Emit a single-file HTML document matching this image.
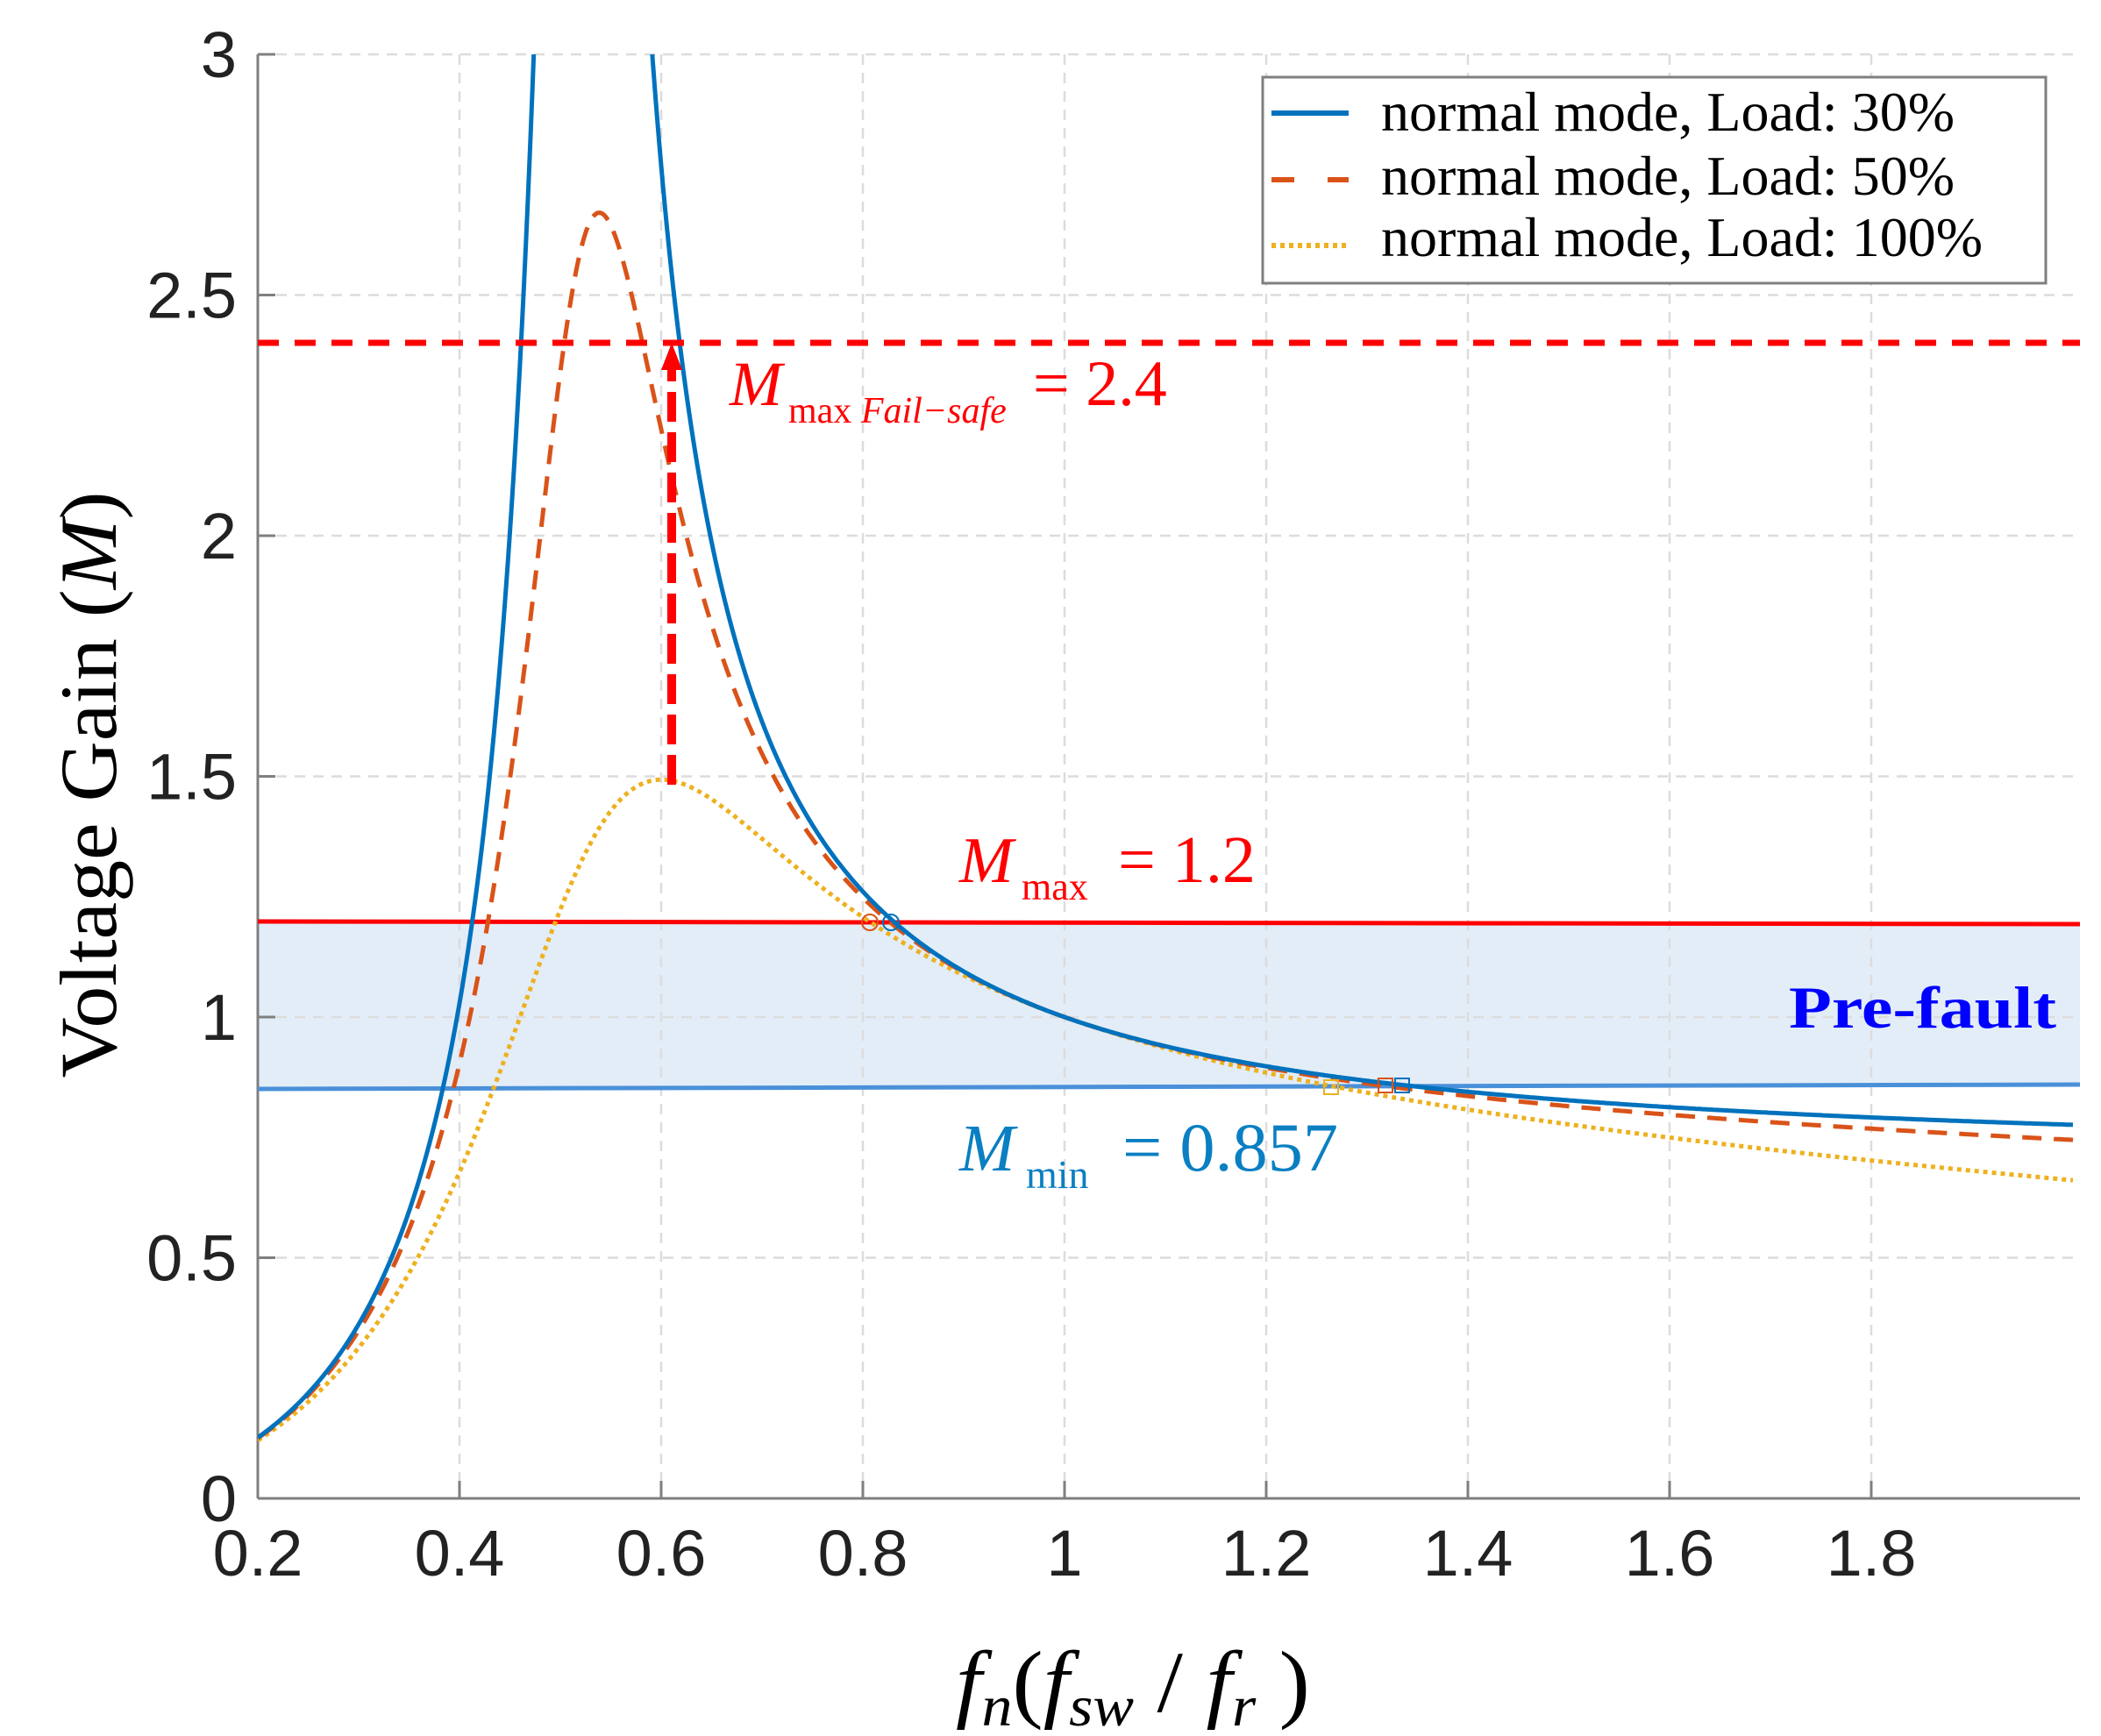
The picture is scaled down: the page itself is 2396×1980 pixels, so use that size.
<!DOCTYPE html>
<html><head><meta charset="utf-8"><style>
html,body{margin:0;padding:0;background:#fff;}
svg{display:block;}
</style></head><body>
<svg id="s" width="2396" height="1980" viewBox="0 0 2396 1980" xmlns="http://www.w3.org/2000/svg">
<defs><clipPath id="cp"><rect x="294" y="62" width="2080" height="1647"/></clipPath></defs>
<rect width="2396" height="1980" fill="#fff"/>
<polygon points="294,1048 2372,1053 2372,1237 294,1243" fill="#e3edf8"/>
<g id="grid" stroke="#dcdcdc" stroke-width="2.5" stroke-dasharray="12,9" fill="none"></g>
<g stroke="#7f7f7f" stroke-width="3" fill="none">
<line x1="294" y1="62" x2="294" y2="1709"/>
<line x1="294" y1="1709" x2="2372" y2="1709"/>
</g>
<g id="ticks" stroke="#7f7f7f" stroke-width="3"></g>
<g id="tl" font-family="Liberation Sans, Arial, sans-serif" font-size="74" fill="#222"></g>
<line x1="294" y1="1051" x2="2372" y2="1054" stroke="#ff0000" stroke-width="5"/>
<line x1="294" y1="1242" x2="2372" y2="1237" stroke="#4a90d9" stroke-width="5"/>
<g clip-path="url(#cp)" fill="none" stroke-linejoin="round">
<path id="c3" stroke="#EDB120" stroke-width="5" stroke-dasharray="5,5"/>
<path id="c2" stroke="#D95319" stroke-width="5" stroke-dasharray="22,14"/>
<path id="c1" stroke="#0072BD" stroke-width="5"/>
</g>
<line x1="294" y1="391" x2="2372" y2="391" stroke="#ff0000" stroke-width="7" stroke-dasharray="24,18"/>
<line x1="766" y1="895" x2="766" y2="420" stroke="#ff0000" stroke-width="10" stroke-dasharray="34,12"/>
<polygon points="766,391 754,422 778,422" fill="#ff0000"/>
<g fill="none" stroke-width="2">
<circle cx="1016" cy="1052" r="9" stroke="#0072BD"/>
<circle cx="992" cy="1052" r="9" stroke="#D95319"/>
<rect x="1591" y="1230" width="16" height="16" stroke="#0072BD"/>
<rect x="1572" y="1230" width="16" height="16" stroke="#D95319"/>
<rect x="1510" y="1232" width="16" height="16" stroke="#EDB120"/>
</g>
<rect x="1440" y="88" width="893" height="235" fill="#fff" stroke="#7f7f7f" stroke-width="3"/>
<line x1="1450" y1="129" x2="1538" y2="129" stroke="#0072BD" stroke-width="6"/>
<line x1="1450" y1="205" x2="1538" y2="205" stroke="#D95319" stroke-width="6" stroke-dasharray="26,38"/>
<line x1="1450" y1="280" x2="1538" y2="280" stroke="#EDB120" stroke-width="6" stroke-dasharray="5,5"/>
<g font-family="Liberation Serif, Times New Roman, serif" font-size="64" fill="#000">
<text x="1575" y="149" textLength="654" lengthAdjust="spacingAndGlyphs">normal mode, Load: 30%</text>
<text x="1575" y="222" textLength="654" lengthAdjust="spacingAndGlyphs">normal mode, Load: 50%</text>
<text x="1575" y="292" textLength="686" lengthAdjust="spacingAndGlyphs">normal mode, Load: 100%</text>
</g>
<g font-family="Liberation Serif, Times New Roman, serif" fill="#ff0000">
<text x="832" y="462" font-size="72" font-style="italic">M</text>
<text x="899" y="482" font-size="42">max <tspan font-style="italic">Fail−safe</tspan></text>
<text x="1178" y="462" font-size="74">= 2.4</text>
<text x="1094" y="1006" font-size="74" font-style="italic">M</text>
<text x="1165" y="1026" font-size="44">max</text>
<text x="1275" y="1006" font-size="76">= 1.2</text>
</g>
<g font-family="Liberation Serif, Times New Roman, serif" fill="#0a7fc2">
<text x="1094" y="1335" font-size="76" font-style="italic">M</text>
<text x="1170" y="1355" font-size="46">min</text>
<text x="1280" y="1335" font-size="78" textLength="246" lengthAdjust="spacingAndGlyphs">= 0.857</text>
</g>
<text x="2040" y="1172" font-family="Liberation Serif, Times New Roman, serif" font-size="68" font-weight="bold" fill="#0000ff" textLength="305" lengthAdjust="spacingAndGlyphs">Pre-fault</text>
<text transform="translate(132,895) rotate(-90)" text-anchor="middle" font-family="Liberation Serif, Times New Roman, serif" font-size="92" fill="#000" textLength="669" lengthAdjust="spacingAndGlyphs">Voltage Gain (<tspan font-style="italic">M</tspan>)</text>
<text x="1090" y="1952" font-family="Liberation Serif, Times New Roman, serif" font-size="100" font-style="italic" fill="#000" textLength="404" lengthAdjust="spacingAndGlyphs">f<tspan font-size="66" dy="16">n</tspan><tspan dy="-16" font-style="normal">(</tspan>f<tspan font-size="66" dy="16">sw</tspan><tspan dy="-16" font-style="normal"> / </tspan>f<tspan font-size="66" dy="16">r</tspan><tspan dy="-16" font-style="normal"> )</tspan></text>
</svg>
<script>
(function(){
var NS="http://www.w3.org/2000/svg";
function X(f){return 294+(f-0.2)*1150;}
function Y(m){return 1709-m*549;}
var g=document.getElementById('grid'),t=document.getElementById('ticks'),tl=document.getElementById('tl');
function el(p,n,a,txt){var e=document.createElementNS(NS,n);for(var k in a)e.setAttribute(k,a[k]);if(txt!==undefined)e.textContent=txt;p.appendChild(e);return e;}
var xs=[0.2,0.4,0.6,0.8,1,1.2,1.4,1.6,1.8],xl=["0.2","0.4","0.6","0.8","1","1.2","1.4","1.6","1.8"];
xs.forEach(function(v,i){var x=X(v);
 if(i>0)el(g,'line',{x1:x,y1:62,x2:x,y2:1709});
 el(t,'line',{x1:x,y1:1709,x2:x,y2:1689});
 el(tl,'text',{x:x,y:1797,'text-anchor':'middle'},xl[i]);});
var ys=[0,0.5,1,1.5,2,2.5,3],yl=["0","0.5","1","1.5","2","2.5","3"];
ys.forEach(function(v,i){var y=Y(v);
 if(i>0)el(g,'line',{x1:294,y1:y,x2:2372,y2:y});
 el(t,'line',{x1:294,y1:y,x2:314,y2:y});
 el(tl,'text',{x:270,y:y+26,'text-anchor':'end'},yl[i]);});
var m=3.7;
function M(f,Q){var f2=f*f;var a=m*f2-1,b=f*(f2-1)*(m-1)*Q;return f2*(m-1)/Math.sqrt(a*a+b*b);}
function path(Q){var d="";for(var f=0.2;f<=2.0001;f+=0.002){var v=Math.min(M(f,Q),3.2);d+=(d?"L":"M")+X(f).toFixed(1)+","+Y(v).toFixed(1);}return d;}
document.getElementById('c1').setAttribute('d',path(0.11));
document.getElementById('c2').setAttribute('d',path(0.275));
document.getElementById('c3').setAttribute('d',path(0.54));
})();
</script>
</body></html>
